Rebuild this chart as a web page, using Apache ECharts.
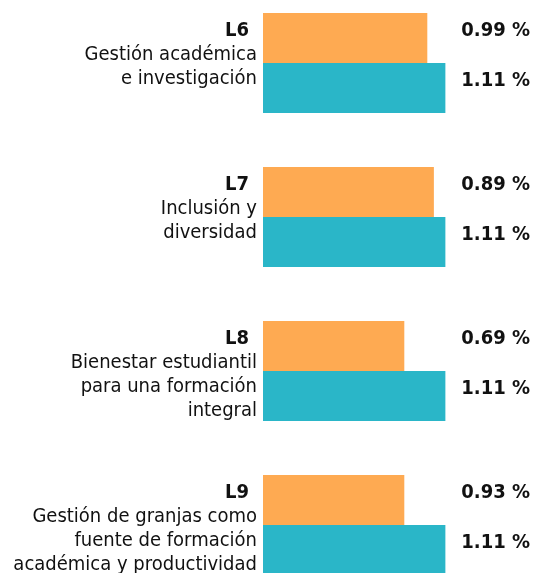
<!DOCTYPE html>
<html>
<head>
<meta charset="utf-8">
<script src="https://cdn.jsdelivr.net/npm/echarts@6/dist/echarts.min.js"></script>
<style>
html, body { margin: 0; padding: 0; background: #fff; }
#chart { width: 534px; height: 573px; }
</style>
</head>
<body>
<div id="chart"></div>
<script>
// datos
var categories = ['L6', 'L7', 'L8', 'L9'];
var descriptions = [
    'Gestión académica\ne investigación',
    'Inclusión y\ndiversidad',
    'Bienestar estudiantil\npara una formación\nintegral',
    'Gestión de granjas como\nfuente de formación\nacadémica y productividad'
];
// longitudes de barra tal como se ven en la imagen
var orangeBars = [1.00, 1.04, 0.86, 0.86];
var tealBars = [1.11, 1.11, 1.11, 1.11];
// textos de la derecha
var orangeLabels = ['0.99 %', '0.89 %', '0.69 %', '0.93 %'];
var tealLabels = ['1.11 %', '1.11 %', '1.11 %', '1.11 %'];
var axisMax = 1.625;

var font = "'DejaVu Sans Condensed', 'DejaVu Sans', sans-serif";
var myChart = echarts.init(document.getElementById('chart'));

// relleno transparente hasta el borde derecho, para alinear los porcentajes
function filler(values) {
    return values.map(function (v) { return +(axisMax - v).toFixed(4); });
}

function valueLabel(texts) {
    return {
        show: true,
        position: 'insideRight',
        distance: 0,
        offset: [0, -7],
        fontFamily: font,
        fontSize: 20,
        fontWeight: 'bold',
        color: '#111',
        formatter: function (p) { return texts[p.dataIndex]; }
    };
}

var option = {
    animation: false,
    textStyle: { fontFamily: font },
    grid: {
        left: 263,
        right: 4,
        top: -14,
        height: 616,
        outerBoundsMode: 'none'
    },
    xAxis: {
        type: 'value',
        min: 0,
        max: axisMax,
        show: false
    },
    yAxis: {
        type: 'category',
        data: categories,
        inverse: true,
        axisLine: { show: false },
        axisTick: { show: false },
        axisLabel: { show: false },
        splitLine: { show: false }
    },
    series: [{
        type: 'bar',
        stack: 'o',
        barWidth: 50,
        barGap: '0%',
        data: orangeBars,
        itemStyle: { color: '#FEAA52' },
        // texto de la izquierda
        label: {
            show: true,
            position: [-6, 5],
            align: 'right',
            verticalAlign: 'top',
            color: '#111',
            formatter: function (p) {
                var lines = descriptions[p.dataIndex].split('\n').map(function (s) {
                    return '{desc|' + s + '}';
                });
                return ['{code|' + p.name + '}'].concat(lines).join('\n');
            },
            rich: {
                code: { fontFamily: font, fontSize: 20, fontWeight: 'bold', lineHeight: 25, padding: [0, 8, 0, 0], color: '#111' },
                desc: { fontFamily: font, fontSize: 20, lineHeight: 24, color: '#111' }
            }
        }
    }, {
        type: 'bar',
        stack: 'o',
        barWidth: 50,
        barGap: '0%',
        silent: true,
        data: filler(orangeBars),
        itemStyle: { color: 'rgba(0,0,0,0)' },
        label: valueLabel(orangeLabels)
    }, {
        type: 'bar',
        stack: 't',
        barWidth: 50,
        barGap: '0%',
        data: tealBars,
        itemStyle: { color: '#2AB6C8' }
    }, {
        type: 'bar',
        stack: 't',
        barWidth: 50,
        barGap: '0%',
        silent: true,
        data: filler(tealBars),
        itemStyle: { color: 'rgba(0,0,0,0)' },
        label: valueLabel(tealLabels)
    }]
};
myChart.setOption(option);
</script>
</body>
</html>
